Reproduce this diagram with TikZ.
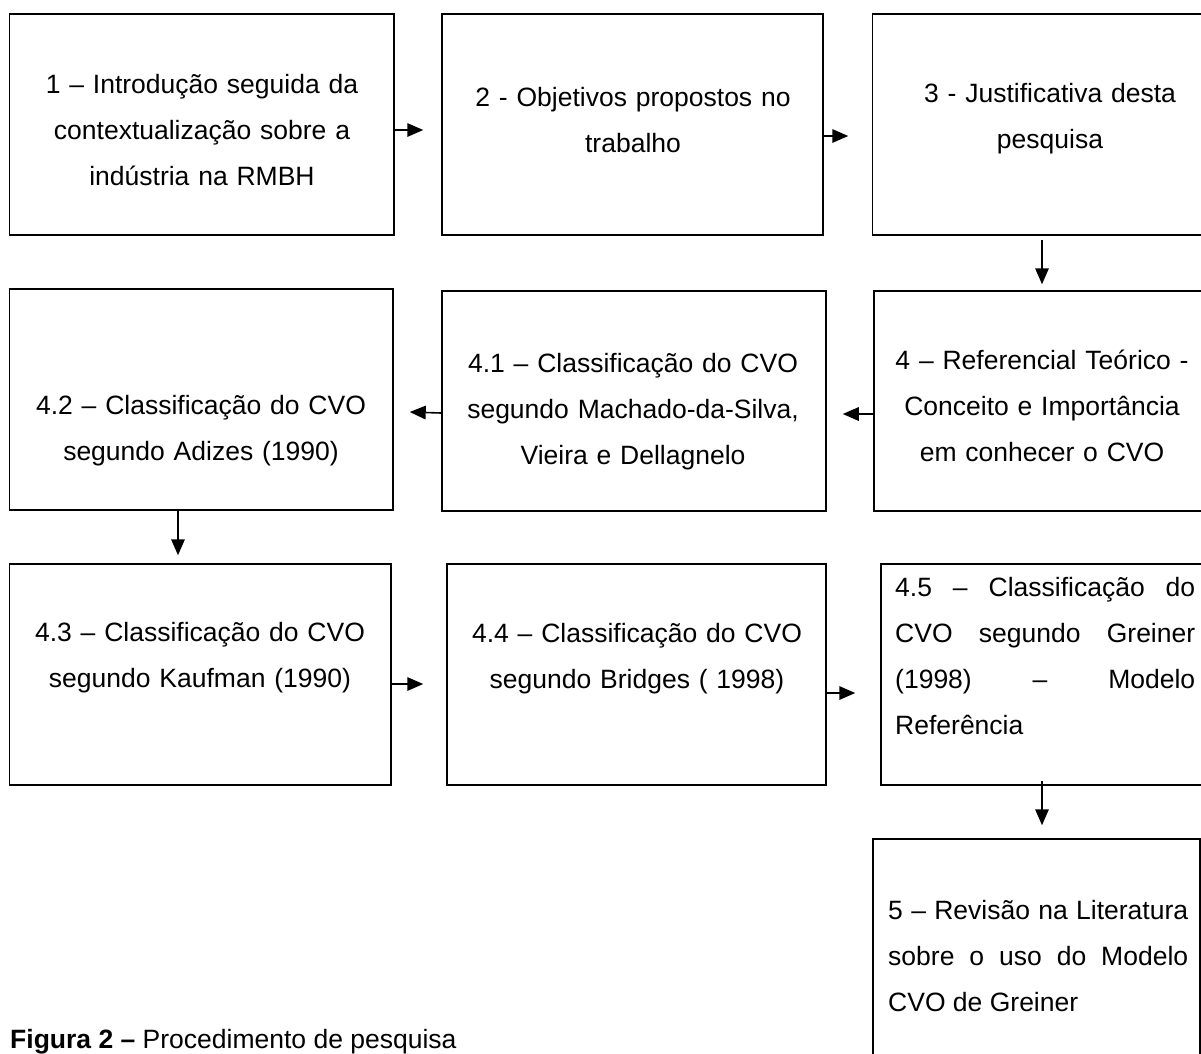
\documentclass[tikz,border=0pt]{standalone}
\usepackage{fontspec}
\setmainfont{Liberation Sans}
\usetikzlibrary{arrows.meta}
\setlength{\parindent}{0pt}
\begin{document}
\begin{tikzpicture}[x=1pt,y=-1pt]
\tikzset{
  box/.style={draw=black, line width=1.5pt, rectangle, inner sep=0pt},
  txt/.style={inner sep=0pt, font=\fontsize{26.5}{46}\selectfont, align=center, text width=#1},
  jtxt/.style={inner sep=0pt, font=\fontsize{26.5}{46}\selectfont\sloppy, align=justify, text width=#1, anchor=west},
  arr/.style={-{Triangle[length=16pt,width=13.5pt]}, line width=1.6pt},
}
\useasboundingbox (0,0) rectangle (1201,1053);
\clip (0,0) rectangle (1201,1053);

% boxes
\node[box, minimum width=384.4pt, minimum height=221pt] (b1)  at (201.8,124.5) {};
\node[box, minimum width=381pt,   minimum height=221pt] (b2)  at (632.5,124.5) {};
\node[box, minimum width=355.5pt, minimum height=221pt] (b3)  at (1050.25,124.5) {};
\node[box, minimum width=383.4pt, minimum height=221pt] (b42) at (201.3,399.5) {};
\node[box, minimum width=384pt,   minimum height=220pt] (b41) at (634,401) {};
\node[box, minimum width=336pt,   minimum height=220pt] (b4)  at (1042,401) {};
\node[box, minimum width=381.4pt, minimum height=221pt] (b43) at (200.3,674.5) {};
\node[box, minimum width=379pt,   minimum height=221pt] (b44) at (636.5,674.5) {};
\node[box, minimum width=334pt,   minimum height=221pt] (b45) at (1048,674.5) {};
\node[box, minimum width=327pt,   minimum height=231pt] (b5)  at (1036.5,954.5) {};

% texts
\node[txt=340pt] (t1) at (202,130) {\strut 1 – Introdução seguida da\\contextualização sobre a\\indústria na RMBH\strut};
\node[txt=340pt] (t2) at (633,120) {\strut 2 - Objetivos propostos no\\trabalho\strut};
\node[txt=330pt] (t3) at (1050,116.5) {\strut 3 - Justificativa desta\\pesquisa\strut};
\node[txt=350pt] (t42) at (201,428.5) {\strut 4.2 – Classificação do CVO\\segundo Adizes (1990)\strut};
\node[txt=360pt] (t41) at (633,409) {\strut 4.1 – Classificação do CVO\\segundo Machado-da-Silva,\\Vieira e Dellagnelo\strut};
\node[txt=330pt] (t4) at (1042,406) {\strut 4 – Referencial Teórico -\\Conceito e Importância\\em conhecer o CVO\strut};
\node[txt=350pt] (t43) at (200,655.5) {\strut 4.3 – Classificação do CVO\\segundo Kaufman (1990)\strut};
\node[txt=350pt] (t44) at (637,656.5) {\strut 4.4 – Classificação do CVO\\segundo Bridges ( 1998)\strut};
\node[jtxt=300pt] (t45) at (895,656.5) {\strut 4.5 – Classificação do\linebreak CVO segundo Greiner\linebreak (1998) – Modelo\linebreak Referência\strut};
\node[jtxt=300pt] (t5) at (888,956.5) {\strut 5 – Revisão na Literatura\linebreak sobre o uso do Modelo\linebreak CVO de Greiner\strut};

% caption
\node[anchor=base west, inner sep=0pt, font=\fontsize{26.5}{30}\selectfont] (cap) at (10,1048) {\textbf{Figura 2 –} Procedimento de pesquisa};

% arrows
\draw[arr, shorten >=18pt] ([yshift=-5.5pt]b1.east) -- ([yshift=-5.5pt]b2.west);
\draw[arr, shorten >=23.5pt] ([yshift=-11.5pt]b2.east) -- ([yshift=-11.5pt]b3.west);
\draw[arr, shorten <=4pt, shorten >=6pt] (b4.north |- b3.south) -- (b4.north);
\draw[arr, shorten >=16pt] ([yshift=-13pt]b4.west) -- ([yshift=-13pt]b41.east);
\draw[arr, shorten >=16pt] ([yshift=-12pt]b41.west) -- ([yshift=-12pt]b42.east);
\draw[arr, shorten >=8pt] ([xshift=-23.3pt]b42.south) -- ([xshift=-22.3pt]b43.north);
\draw[arr, shorten >=23pt] ([yshift=-9.5pt]b43.east) -- ([yshift=-9.5pt]b44.west);
\draw[arr, shorten >=25pt] ([yshift=-18.5pt]b44.east) -- ([yshift=-18.5pt]b45.west);
\draw[arr, shorten <=-5pt, shorten >=13pt] ([xshift=-6pt]b45.south) -- ([xshift=5.5pt]b5.north);
\end{tikzpicture}
\end{document}
